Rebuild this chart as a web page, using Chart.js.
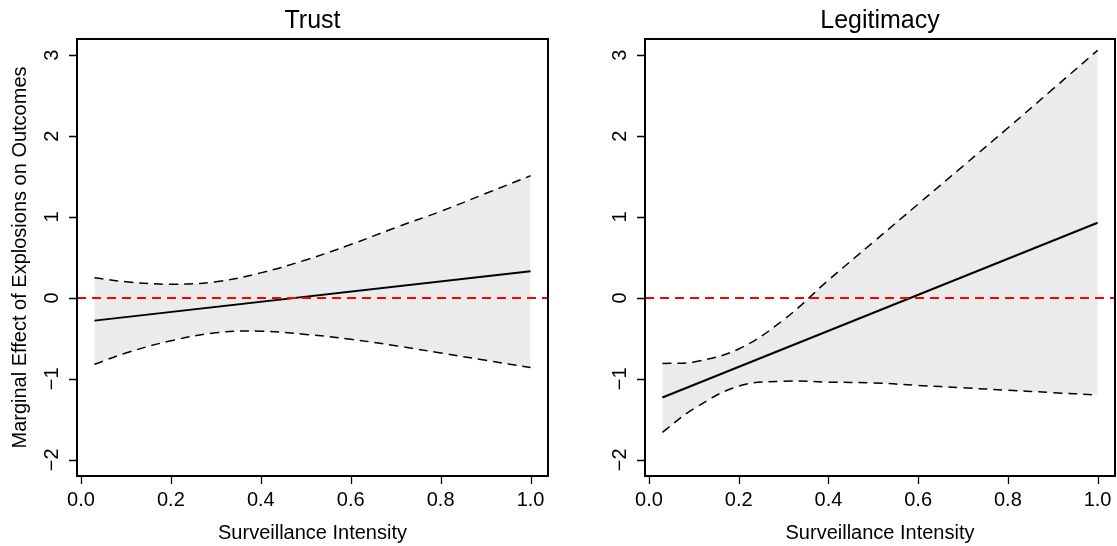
<!DOCTYPE html>
<html>
<head>
<meta charset="utf-8">
<script src="https://cdn.jsdelivr.net/npm/chart.js@4"></script>
<style>
  html, body { margin: 0; padding: 0; background: #fff; }
  #wrap { position: relative; width: 1117px; height: 546px; }
  #trustChart { position: absolute; left: 0; top: 0; }
  #legitChart { position: absolute; left: 558px; top: 0; }
</style>
</head>
<body>
<div id="wrap">
  <canvas id="trustChart" width="558" height="546"></canvas>
  <canvas id="legitChart" width="559" height="546"></canvas>
</div>
<script>
// Marginal effect of explosions across surveillance intensity
const X_TICKS = [0, 0.2, 0.4, 0.6, 0.8, 1.0];
const Y_TICKS = [-2, -1, 0, 1, 2, 3];
const X_RANGE = [-0.0088, 1.0388];
const Y_RANGE = [-2.2, 3.2];
const REF_LINE = 0;

const BAND_X = [0.03, 0.1, 0.2, 0.3, 0.4, 0.5, 0.6, 0.7, 0.8, 0.9, 1.0];
const EFFECT_X = [0.03, 1.0];

const TRUST_EFFECT = [-0.28, 0.33];
const TRUST_UPPER = [0.25, 0.20, 0.17, 0.20, 0.31, 0.47, 0.66, 0.87, 1.07, 1.29, 1.51];
const TRUST_LOWER = [-0.82, -0.68, -0.53, -0.43, -0.41, -0.45, -0.51, -0.59, -0.68, -0.77, -0.86];

const LEGIT_EFFECT = [-1.23, 0.93];
const LEGIT_UPPER = [-0.81, -0.79, -0.63, -0.27, 0.22, 0.69, 1.16, 1.63, 2.10, 2.58, 3.06];
const LEGIT_LOWER = [-1.66, -1.37, -1.09, -1.03, -1.04, -1.05, -1.08, -1.11, -1.14, -1.17, -1.20];

const X_LABEL = 'Surveillance Intensity';
const Y_LABEL = 'Marginal Effect of Explosions on Outcomes';

const FONT = '"Liberation Sans", Arial, Helvetica, sans-serif';

function toPoints(xs, ys) {
    return xs.map((x, i) => ({ x: x, y: ys[i] }));
}

function fmtTick(v) {
    return v < 0 ? '\u2212' + Math.abs(v) : String(v);
}

// base-graphics style frame: box, ticks, labels, titles and the zero line
const rFrame = {
    id: 'rFrame',
    afterDatasetsDraw(chart) {
        const { ctx, chartArea: a, scales: { y } } = chart;
        const y0 = y.getPixelForValue(REF_LINE);
        ctx.save();
        ctx.strokeStyle = '#FF0000';
        ctx.lineWidth = 2;
        ctx.setLineDash([9, 6]);
        ctx.beginPath();
        ctx.moveTo(a.left, y0);
        ctx.lineTo(a.right, y0);
        ctx.stroke();
        ctx.restore();
    },
    afterDraw(chart, args, opts) {
        const { ctx, chartArea: a, scales: { x, y } } = chart;
        ctx.save();
        ctx.strokeStyle = '#000';
        ctx.fillStyle = '#000';

        // box
        ctx.lineWidth = 2;
        ctx.strokeRect(a.left, a.top, a.right - a.left, a.bottom - a.top);

        // tick marks
        ctx.lineWidth = 1.3;
        ctx.beginPath();
        X_TICKS.forEach(v => {
            const px = Math.round(x.getPixelForValue(v)) + 0.5;
            ctx.moveTo(px, a.bottom);
            ctx.lineTo(px, a.bottom + 8);
        });
        Y_TICKS.forEach(v => {
            const py = Math.round(y.getPixelForValue(v)) + 0.5;
            ctx.moveTo(a.left, py);
            ctx.lineTo(a.left - 8, py);
        });
        ctx.stroke();

        // x tick labels
        ctx.font = '20px ' + FONT;
        ctx.textAlign = 'center';
        ctx.textBaseline = 'alphabetic';
        X_TICKS.forEach(v => {
            ctx.fillText(v.toFixed(1), x.getPixelForValue(v), a.bottom + 30);
        });

        // y tick labels, rotated to run along the axis
        Y_TICKS.forEach(v => {
            ctx.save();
            ctx.translate(a.left - 19, y.getPixelForValue(v));
            ctx.rotate(-Math.PI / 2);
            ctx.fillText(fmtTick(v), 0, 0);
            ctx.restore();
        });

        const cx = (a.left + a.right) / 2;
        const cy = (a.top + a.bottom) / 2;

        // x axis title
        ctx.fillText(X_LABEL, cx, a.bottom + 63);

        // y axis title
        if (opts.yLabel) {
            ctx.save();
            ctx.translate(a.left - 51, cy);
            ctx.rotate(-Math.PI / 2);
            ctx.fillText(Y_LABEL, 0, 0);
            ctx.restore();
        }

        // panel title
        ctx.font = '25px ' + FONT;
        ctx.fillText(opts.title, cx, 28);
        ctx.restore();
    }
};

function makePanel(canvasId, title, effect, upper, lower, padLeft, padRight, showYLabel) {
    const ctx = document.getElementById(canvasId);
    return new Chart(ctx, {
        type: 'line',
        data: {
            datasets: [
                {
                    label: 'Upper',
                    data: toPoints(BAND_X, upper),
                    borderColor: '#000',
                    borderWidth: 1.5,
                    borderDash: [9, 6],
                    backgroundColor: '#EBEBEB',
                    fill: '+1',
                    tension: 0.4,
                    pointRadius: 0
                },
                {
                    label: 'Lower',
                    data: toPoints(BAND_X, lower),
                    borderColor: '#000',
                    borderWidth: 1.5,
                    borderDash: [9, 6],
                    fill: false,
                    tension: 0.4,
                    pointRadius: 0
                },
                {
                    label: 'Effect',
                    data: toPoints(EFFECT_X, effect),
                    borderColor: '#000',
                    borderWidth: 2,
                    fill: false,
                    pointRadius: 0
                }
            ]
        },
        options: {
            responsive: false,
            animation: false,
            layout: {
                padding: { left: padLeft, right: padRight, top: 39, bottom: 70 }
            },
            plugins: {
                legend: { display: false },
                tooltip: { enabled: false },
                filler: { drawTime: 'beforeDatasetsDraw' },
                rFrame: { title: title, yLabel: showYLabel }
            },
            scales: {
                x: { type: 'linear', min: X_RANGE[0], max: X_RANGE[1], display: false },
                y: { type: 'linear', min: Y_RANGE[0], max: Y_RANGE[1], display: false }
            }
        },
        plugins: [rFrame]
    });
}

makePanel('trustChart', 'Trust', TRUST_EFFECT, TRUST_UPPER, TRUST_LOWER, 77, 10, true);
makePanel('legitChart', 'Legitimacy', LEGIT_EFFECT, LEGIT_UPPER, LEGIT_LOWER, 87, 2, false);
</script>
</body>
</html>
